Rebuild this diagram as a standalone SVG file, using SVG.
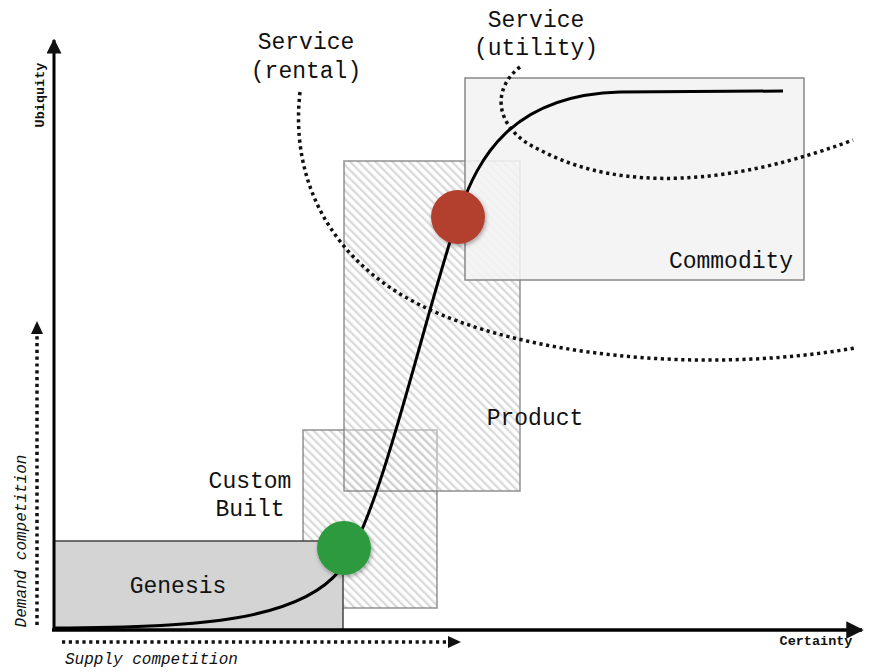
<svg xmlns="http://www.w3.org/2000/svg" width="875" height="672" viewBox="0 0 875 672">
<defs>
<style>
.lbl{font-family:"Liberation Mono","Courier New",monospace;font-size:23px;fill:#111}
.ax{font-family:"Liberation Mono","Courier New",monospace;font-size:13.5px;font-weight:bold;fill:#111}
.it{font-family:"Liberation Mono","Courier New",monospace;font-size:16px;font-style:italic;fill:#111}
.dot{fill:none;stroke:#111;stroke-width:3.5;stroke-dasharray:3.2 3.6}
.hatch{fill:url(#hatch);stroke:#777;stroke-opacity:0.8;stroke-width:1.5}
</style>
<pattern id="hatch" patternUnits="userSpaceOnUse" width="6" height="6" patternTransform="rotate(-45)">
<rect width="6" height="6" fill="#ffffff" fill-opacity="0.35"/>
<rect x="0" y="0" width="2.4" height="6" fill="#bbbbbb" fill-opacity="0.55"/>
</pattern>
<marker id="ahBig" viewBox="0 0 10 10" refX="9" refY="5" markerWidth="5" markerHeight="5" orient="auto">
<path d="M0,0 L10,5 L0,10 z" fill="#111"/>
</marker>
<filter id="sh" x="-30%" y="-30%" width="160%" height="160%">
<feDropShadow dx="1" dy="2" stdDeviation="2" flood-color="#000" flood-opacity="0.35"/>
</filter>
</defs>
<rect width="875" height="672" fill="#ffffff"/>

<g id="custom-built">
<rect class="hatch" x="303" y="430" width="134" height="178"/>
<text class="lbl" x="250" y="488" text-anchor="middle">Custom</text>
<text class="lbl" x="250" y="516" text-anchor="middle">Built</text>
</g>
<g id="genesis">
<rect x="54" y="541" width="289" height="89" fill="#d4d4d4" stroke="#444" stroke-width="1.5"/>
<text class="lbl" x="178" y="593" text-anchor="middle">Genesis</text>
</g>
<g id="product">
<rect class="hatch" x="344" y="161" width="176" height="330"/>
<text class="lbl" x="535" y="425" text-anchor="middle">Product</text>
</g>
<g id="commodity">
<rect x="465" y="78" width="339" height="202" fill="#f3f3f3" fill-opacity="0.88" stroke="#888" stroke-width="1.5"/>
<text class="lbl" x="731" y="268" text-anchor="middle">Commodity</text>
</g>
<g id="service-rental">
<text class="lbl" x="306" y="49" text-anchor="middle">Service</text>
<text class="lbl" x="306" y="78" text-anchor="middle">(rental)</text>
</g>
<g id="service-utility">
<text class="lbl" x="536" y="27" text-anchor="middle">Service</text>
<text class="lbl" x="536" y="55" text-anchor="middle">(utility)</text>
</g>

<g id="connectors">
<path class="dot" d="M300,92 C290,180 330,260 420,305 C520,355 700,375 855,348"/>
<path class="dot" d="M520,67 C490,90 495,130 540,150 C600,182 700,197 853,140"/>
<path d="M54,628 C200,628 300,620 340,570 C380,520 420,330 460,210 C478,160 510,95 620,92 L783,91" fill="none" stroke="#000" stroke-width="3"/>
<line x1="54" y1="631" x2="54" y2="40" stroke="#000" stroke-width="3" marker-end="url(#ahBig)"/>
<line x1="52" y1="630" x2="862" y2="630" stroke="#000" stroke-width="3.5" marker-end="url(#ahBig)"/>
<line class="dot" x1="37" y1="625" x2="37" y2="330"/>
<path d="M31,334 L37,321 L43,334 z" fill="#111"/>
<line class="dot" x1="62" y1="642" x2="450" y2="642"/>
<path d="M448,636 L461,642 L448,648 z" fill="#111"/>
</g>

<g id="point-green">
<circle cx="344" cy="548" r="27" fill="#2e9a3f" filter="url(#sh)"/>
</g>
<g id="point-red">
<circle cx="458" cy="217" r="27" fill="#b3402e" filter="url(#sh)"/>
</g>

<g id="axis-labels">
<text class="ax" transform="translate(44,95) rotate(-90)" text-anchor="middle">Ubiquity</text>
<text class="ax" x="816" y="645" text-anchor="middle">Certainty</text>
<text class="it" transform="translate(26,541) rotate(-90)" text-anchor="middle">Demand competition</text>
<text class="it" x="65" y="664">Supply competition</text>
</g>
</svg>
